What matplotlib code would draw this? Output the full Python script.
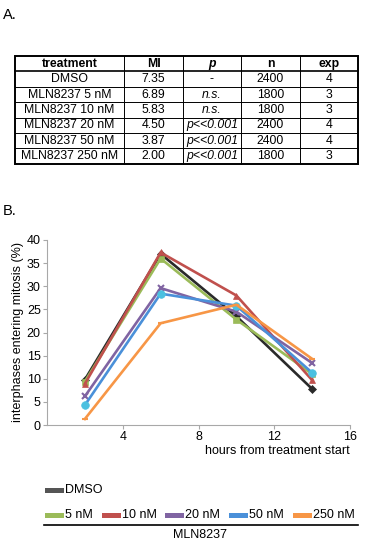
import matplotlib
matplotlib.use("Agg")
import matplotlib.pyplot as plt
from matplotlib.patches import Rectangle

plt.rcParams['font.family'] = ['Liberation Sans', 'DejaVu Sans']

# ---- table data ----
col_headers = ["treatment", "MI", "p", "n", "exp"]
treatments = ["DMSO", "MLN8237 5 nM", "MLN8237 10 nM", "MLN8237 20 nM",
              "MLN8237 50 nM", "MLN8237 250 nM"]
mi_values = ["7.35", "6.89", "5.83", "4.50", "3.87", "2.00"]
p_values = ["-", "n.s.", "n.s.", "p<<0.001", "p<<0.001", "p<<0.001"]
n_values = ["2400", "1800", "1800", "2400", "2400", "1800"]
exp_values = ["4", "3", "3", "4", "4", "3"]

# ---- chart data ----
hours = [2, 6, 10, 14]
series_names = ["DMSO", "5 nM", "10 nM", "20 nM", "50 nM", "250 nM"]
dmso = [9.8, 37.0, 23.5, 7.8]
nm5 = [9.4, 36.0, 22.8, 11.0]
nm10 = [8.9, 37.3, 28.0, 9.7]
nm20 = [6.2, 29.6, 24.5, 13.4]
nm50 = [4.3, 28.4, 25.8, 11.3]
nm250 = [1.3, 22.0, 26.0, 14.3]
series = [dmso, nm5, nm10, nm20, nm50, nm250]
colors = ["#2a2a2a", "#9bbb59", "#c0504d", "#8064a2", "#4a90d9", "#f79646"]
legend_colors = ["#555555", "#9bbb59", "#c0504d", "#8064a2", "#4a90d9", "#f79646"]
markers = ["D", "s", "^", "x", "o", "_"]
marker_colors = ["#2a2a2a", "#9bbb59", "#c0504d", "#8064a2", "#4bc0e0", "#f79646"]
marker_sizes = [4, 5, 5, 5, 5.5, 5]

W, H = 375, 548
fig = plt.figure(figsize=(W / 100, H / 100), dpi=100)

# overlay axes in pixel coordinates for table, labels and legend
ov = fig.add_axes([0, 0, 1, 1])
ov.set_xlim(0, W)
ov.set_ylim(H, 0)
ov.axis('off')

ov.text(3, 15, "A.", fontsize=10.5, va='center', ha='left')
ov.text(3, 211, "B.", fontsize=10.5, va='center', ha='left')

# ---- table ----
col_edges = [15, 124, 183, 241, 300, 358]
top, row_h = 56, 15.4
nrows = len(treatments) + 1
bottom = top + row_h * nrows
ov.add_patch(Rectangle((col_edges[0], top), col_edges[-1] - col_edges[0], bottom - top,
                       fill=False, lw=1.4, ec='black'))
for x in col_edges[1:-1]:
    ov.plot([x, x], [top, bottom], color='black', lw=0.7)
for r in range(1, nrows):
    y = top + r * row_h
    ov.plot([col_edges[0], col_edges[-1]], [y, y], color='black', lw=1.2 if r == 1 else 0.7)

cols = [treatments, mi_values, p_values, n_values, exp_values]
for c, hdr in enumerate(col_headers):
    cx = (col_edges[c] + col_edges[c + 1]) / 2
    ov.text(cx, top + row_h * 0.5, hdr, ha='center', va='center', fontsize=8.8,
            fontweight='bold', fontstyle='italic' if hdr == 'p' else 'normal')
    for r, val in enumerate(cols[c]):
        italic = (c == 2 and val != "-")
        ov.text(cx, top + row_h * (r + 1.5), val, ha='center', va='center',
                fontsize=8.8, fontstyle='italic' if italic else 'normal')

# ---- line chart ----
ax = fig.add_axes([47 / W, 1 - 425 / H, (350 - 47) / W, (425 - 240) / H])
for ys, col, mk, mc, ms in zip(series, colors, markers, marker_colors, marker_sizes):
    ax.plot(hours, ys, color=col, lw=1.9, marker=mk, ms=ms,
            mfc=mc, mec=mc, mew=1.5 if mk in ('x', '_') else 0.5, zorder=3)
ax.set_xlim(0, 16)
ax.set_ylim(0, 40)
ax.set_xticks([4, 8, 12, 16])
ax.set_yticks(range(0, 41, 5))
for s in ['top', 'right']:
    ax.spines[s].set_visible(False)
for s in ['left', 'bottom']:
    ax.spines[s].set_color('#a8a8a8')
    ax.spines[s].set_linewidth(0.8)
ax.tick_params(axis='both', colors='#a8a8a8', labelcolor='black', labelsize=9,
               length=3, width=0.8)
ax.tick_params(axis='x', pad=1)
ax.tick_params(axis='y', pad=1.5)
ax.set_ylabel("interphases entering mitosis (%)", fontsize=9, labelpad=2)
ov.text(350, 451, "hours from treatment start", ha='right', va='center', fontsize=9)

# ---- legend ----
def leg_item(x, y, color, label):
    ov.add_patch(Rectangle((x, y - 2.5), 19, 5, color=color, lw=0))
    ov.text(x + 20, y, label, ha='left', va='center', fontsize=9)

leg_item(45, 490, legend_colors[0], series_names[0])
leg_x = [45, 102, 165, 229, 293]
for x, col, name in zip(leg_x, legend_colors[1:], series_names[1:]):
    leg_item(x, 515, col, name)
ov.plot([44, 358], [525, 525], color='black', lw=1.2)
ov.text(200, 535, "MLN8237", ha='center', va='center', fontsize=9)

fig.savefig("out.png", dpi=100)
